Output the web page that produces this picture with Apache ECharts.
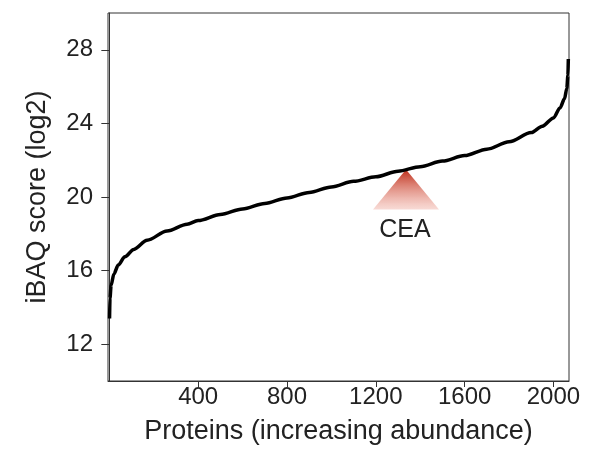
<!DOCTYPE html>
<html>
<head>
<meta charset="utf-8">
<script src="https://cdn.jsdelivr.net/npm/echarts@6/dist/echarts.min.js"></script>
<style>html,body{margin:0;padding:0;background:#fff;}#c{width:590px;height:450px;}</style>
</head>
<body>
<div id="c"></div>
<script>
// Protein rank (x) and iBAQ score log2 (y)
var proteinRank = [1, 3, 8, 20, 40, 70, 110, 170, 260, 350, 400, 500, 600, 700, 800, 900, 1000, 1100, 1200, 1300, 1400, 1500, 1600, 1700, 1800, 1900, 1950, 2000, 2030, 2050, 2060, 2065, 2067];
var ibaqScore   = [13.4, 14.5, 15.2, 15.8, 16.3, 16.75, 17.15, 17.65, 18.15, 18.52, 18.72, 19.05, 19.35, 19.65, 19.95, 20.25, 20.55, 20.85, 21.1, 21.4, 21.65, 21.95, 22.25, 22.6, 23.0, 23.5, 23.85, 24.3, 24.85, 25.35, 25.9, 26.6, 27.5];
var xTicks = [400, 800, 1200, 1600, 2000];
var yTicks = [12, 16, 20, 24, 28];
var ceaLabel = 'CEA';
var ceaPoint = [1336, 21.5];

var curve = proteinRank.map(function (x, i) { return [x, ibaqScore[i]]; });
var font = 'Liberation Sans, Arial, sans-serif';
var chart = echarts.init(document.getElementById('c'));
chart.setOption({
  animation: false,
  grid: { left: 108, right: 21, top: 13, bottom: 65, show: true, borderColor: '#333', borderWidth: 1 },
  xAxis: {
    type: 'value', min: -6, max: 2070,
    name: 'Proteins (increasing abundance)', nameLocation: 'middle', nameGap: 37,
    nameTextStyle: { fontSize: 27, color: '#222', fontFamily: font },
    axisLine: { show: true, lineStyle: { color: '#333' } },
    axisTick: { show: true, length: 6, customValues: xTicks, lineStyle: { color: '#333' } },
    axisLabel: { customValues: xTicks, fontSize: 24, color: '#222', fontFamily: font, margin: 4,
      formatter: function (v) { return String(v); } },
    splitLine: { show: false }
  },
  yAxis: {
    type: 'value', min: 10, max: 30,
    name: 'iBAQ score (log2)', nameLocation: 'middle', nameGap: 57, nameRotate: 90,
    nameTextStyle: { fontSize: 27, color: '#222', fontFamily: font },
    axisLine: { show: true, lineStyle: { color: '#333' } },
    axisTick: { show: true, length: 8, customValues: yTicks, lineStyle: { color: '#333' } },
    axisLabel: { customValues: yTicks, fontSize: 24, color: '#222', fontFamily: font, margin: 15 },
    splitLine: { show: false }
  },
  series: [
    {
      type: 'custom', z: 1, silent: true,
      data: [ceaPoint],
      renderItem: function (params, api) {
        var p = api.coord([api.value(0), api.value(1)]);
        return {
          type: 'group',
          children: [
            {
              type: 'polygon',
              shape: { points: [[p[0], p[1]], [p[0] - 33, p[1] + 40], [p[0] + 33, p[1] + 40]] },
              style: {
                fill: new echarts.graphic.LinearGradient(0, 0, 0, 1, [
                  { offset: 0, color: 'rgba(190,45,25,1)' },
                  { offset: 1, color: 'rgba(235,150,135,0.35)' }
                ])
              }
            },
            {
              type: 'text',
              style: {
                text: ceaLabel, x: p[0] - 1, y: p[1] + 61,
                align: 'center', verticalAlign: 'middle',
                fontSize: 25, fill: '#222', fontFamily: font
              }
            }
          ]
        };
      }
    },
    {
      type: 'line', z: 3, data: curve, showSymbol: false,
      smooth: 0.3, smoothMonotone: 'x',
      lineStyle: { color: '#000', width: 3.5 }
    }
  ]
});
</script>
</body>
</html>
